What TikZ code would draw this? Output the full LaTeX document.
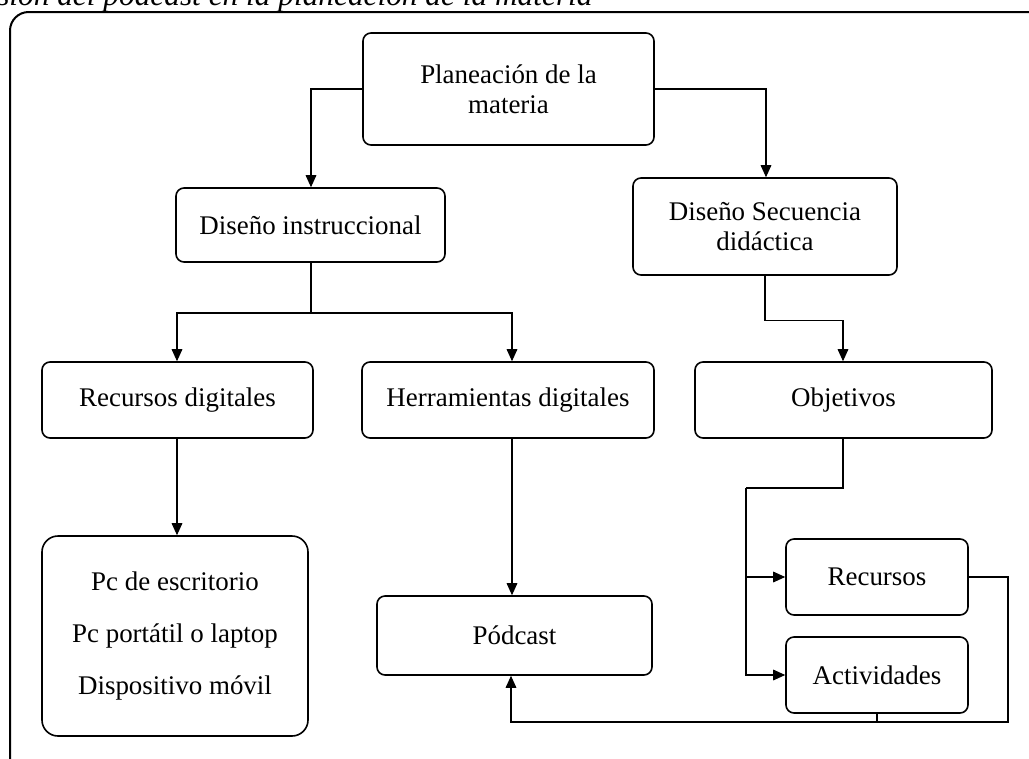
\documentclass[tikz,border=0pt]{standalone}
\usepackage{fontspec}
\setmainfont{Liberation Serif}
\usetikzlibrary{arrows.meta}
\begin{document}
\begin{tikzpicture}[x=0.75pt,y=-0.75pt,
  box/.style={draw,line width=1.2pt,rounded corners=6pt,align=center,font=\fontsize{20.2}{22.5}\selectfont,inner sep=0pt},
  conn/.style={line width=0.8pt},
  arr/.style={conn,-{Triangle[length=9pt,width=8pt]}}]
\useasboundingbox (0,0) rectangle (1029,758);
\begin{scope}
\clip (0,0) rectangle (1029,758);
\node[anchor=base west,inner sep=0pt,font=\fontsize{23.5}{26}\selectfont\itshape] (cap) at (-3,5) {sión del pódcast en la planeación de la materia};
\draw[line width=1.5pt,rounded corners=14pt] (10,780) -- (10,12) -- (1050,12);
\end{scope}
\node[box,minimum width=291*0.75pt,minimum height=112*0.75pt] (plan) at (508.5,89) {Planeación de la\\materia};
\node[box,minimum width=269*0.75pt,minimum height=74*0.75pt] (dinst) at (310.5,225) {Diseño instruccional};
\node[box,minimum width=264*0.75pt,minimum height=97*0.75pt] (dsec) at (765,226.5) {Diseño Secuencia\\didáctica};
\node[box,minimum width=271*0.75pt,minimum height=76*0.75pt] (rdig) at (177.5,400) {Recursos digitales};
\node[box,minimum width=292*0.75pt,minimum height=76*0.75pt] (hdig) at (508,400) {Herramientas digitales};
\node[box,minimum width=297*0.75pt,minimum height=76*0.75pt] (obj) at (843.5,400) {Objetivos};
\node[box,rounded corners=12pt,minimum width=266*0.75pt,minimum height=200*0.75pt,font=\fontsize{20.2}{39}\selectfont] (pc) at (175,636) {Pc de escritorio\\Pc portátil o laptop\\Dispositivo móvil};
\node[box,minimum width=275*0.75pt,minimum height=79*0.75pt] (pod) at (514.5,635.5) {Pódcast};
\node[box,minimum width=182*0.75pt,minimum height=76*0.75pt] (rec) at (877,577) {Recursos};
\node[box,minimum width=182*0.75pt,minimum height=76*0.75pt] (act) at (877,675) {Actividades};
\coordinate (j1) at (311,313);
\coordinate (j2) at (746,488);
\coordinate (j3) at (1008,722);
% connectors
\draw[arr] (plan.west |- 0,89) -| (dinst.north -| 311,0);
\draw[arr] (plan.east |- 0,89) -| (dsec.north -| 766,0);
\draw[conn] (dinst.south -| 311,0) -- (j1);
\draw[arr] (j1) -| (rdig.north -| 177,0);
\draw[arr] (j1) -| (hdig.north -| 512,0);
\draw[arr] (dsec.south) -- ++(0,45) -| (obj.north -| 843,0);
\draw[arr] (rdig.south -| 177,0) -- (pc.north -| 177,0);
\draw[arr] (hdig.south -| 512,0) -- (pod.north -| 512,0);
\draw[conn] (obj.south -| 843,0) |- (j2);
\draw[arr] (j2) |- (rec.west);
\draw[arr] (j2) |- (act.west);
\draw[arr] (rec.east) -| (j3) -| (pod.south -| 511,0);
\draw[conn] (act.south) -- (act.south |- j3);
\end{tikzpicture}
\end{document}
